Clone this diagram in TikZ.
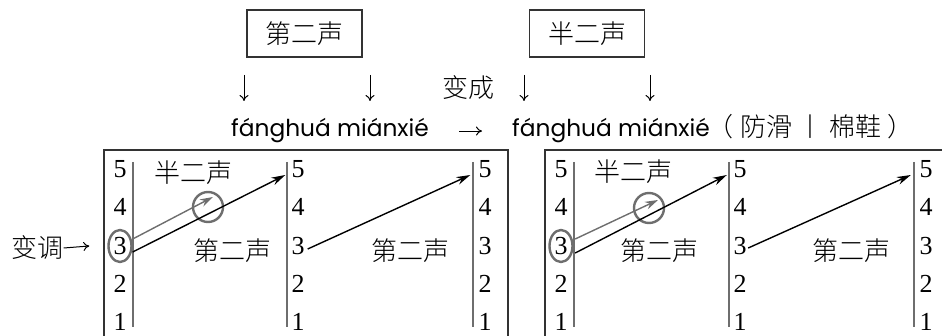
\documentclass[tikz,border=0pt]{standalone}
\usepackage{fontspec}
\setmainfont{Liberation Serif}
\newfontfamily\cjk{Noto Sans CJK SC Light}
\newfontfamily\py{Poppins}
\usetikzlibrary{arrows.meta,shapes.geometric}
\definecolor{lgray}{HTML}{6E6E6E}
\definecolor{dgray}{HTML}{333333}
\begin{document}
\begin{tikzpicture}[x=1pt,y=-1pt,
  cjkt/.style={font=\cjk\fontsize{26}{26}\selectfont, inner sep=0pt},
  num/.style={font=\fontsize{26}{26}\selectfont, inner sep=0pt},
  tbox/.style={cjkt, draw=dgray, line width=1.3pt, minimum width=115pt, minimum height=47pt},
  pyt/.style={font=\py\fontsize{23.3}{24}\selectfont, inner sep=0pt},
  frame/.style={draw=dgray, line width=1.3pt},
  vline/.style={draw=lgray, line width=1.8pt},
  blk/.style={line width=1.4pt, -{Stealth[length=14pt,width=8pt]}},
  gry/.style={draw=lgray, line width=1.4pt, -{Stealth[length=13pt,width=8pt]}, fill=lgray},
  ring/.style={draw=lgray, line width=2.4pt, inner sep=0pt},
  down/.style={line width=1pt, -{To[length=6pt,width=9pt]}},
  harrow/.style={line width=1pt, -{To[length=6pt,width=9pt]}}]
\useasboundingbox (0,0) rectangle (942,336);

% top boxes
\node[tbox] (t1) at (304.5,33.5) {第二声};
\node[tbox] (t2) at (587,33.5) {半二声};

% down arrows
\coordinate (d1a) at (244,75); \coordinate (d1b) at (244,101);
\coordinate (d2a) at (370,75); \coordinate (d2b) at (370,101);
\coordinate (d3a) at (524,75); \coordinate (d3b) at (524,101);
\coordinate (d4a) at (650,75); \coordinate (d4b) at (650,101);
\draw[down] (d1a) -- (d1b);
\draw[down] (d2a) -- (d2b);
\draw[down] (d3a) -- (d3b);
\draw[down] (d4a) -- (d4b);
\node[cjkt] (bc) at (468,88) {变成};

% pinyin line
\node[pyt, anchor=base west] (p1) at (231,137) {fánghuá miánxié};
\node[pyt, anchor=base west] (p2) at (512,137) {fánghuá miánxié};
\node[cjkt, anchor=base west] (p3) at ([xshift=-3pt]p2.base east) {（\hspace{7pt}防滑 丨 棉鞋 ）};
\draw[harrow] ([xshift=30pt]p1.east) -- ([xshift=-30pt]p2.west);

% frames
\draw[frame] (104,345) |- (508,150) -- (508,345);
\draw[frame] (545,345) |- (960,150);

% vertical scale lines
\foreach \x in {133,287,473,574,729,914}
  \draw[vline] (\x,162) -- (\x,327);

% numbers
\foreach \c/\x in {A/120,B/298,C/485,D/561,E/740,F/926}
  \foreach \n/\y in {5/169,4/207,3/246,2/284,1/322}
    \node[num] (\c\n) at (\x,\y) {\n};

% rings
\node[ring, ellipse, minimum width=23pt, minimum height=32pt] (rA) at (A3) {};
\node[ring, ellipse, minimum width=23pt, minimum height=32pt] (rD) at (D3) {};
\node[ring, circle, minimum size=30pt] (c1) at (208,207) {};
\node[ring, circle, minimum size=30pt] (c2) at (649,208) {};

% labels
\node[cjkt] (h1) at (193,173) {半二声};
\node[cjkt] (s1) at (232.5,251) {第二声};
\node[cjkt] (s2) at (410,251) {第二声};
\node[cjkt] (h2) at (633.5,172) {半二声};
\node[cjkt] (s3) at (659.5,251) {第二声};
\node[cjkt] (s4) at (851,251) {第二声};

% 变调 arrow
\node[cjkt] (bt) at (37.5,248) {变调};
\draw[harrow] (bt.east) -- ([xshift=-18pt]rA.west);

% tone arrows, left frame
\draw[gry] ([yshift=7pt]rA.east) -- ([shift={(5pt,10pt)}]c1.center);
\draw[blk] ([yshift=-6pt]rA.east) -- ([shift={(-6pt,-6pt)}]B5.west);
\draw[blk] ([shift={(3pt,-3pt)}]B3.east) -- ([shift={(-8pt,-6pt)}]C5.west);

% tone arrows, right frame
\draw[gry] ([shift={(1.5pt,7pt)}]rD.east) -- ([shift={(9pt,8pt)}]c2.center);
\draw[blk] ([shift={(1.5pt,-7pt)}]rD.east) -- ([shift={(-6.5pt,-6pt)}]E5.west);
\draw[blk] ([shift={(1.5pt,-2pt)}]E3.east) -- ([shift={(-8.5pt,-6pt)}]F5.west);
\end{tikzpicture}
\end{document}
